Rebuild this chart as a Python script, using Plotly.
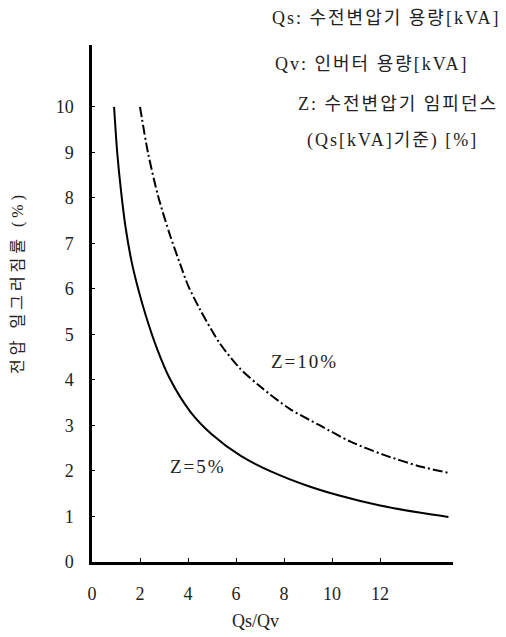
import plotly.graph_objects as go

# Data
z5_x = [0.92, 1.05, 1.2, 1.4, 1.65, 1.9, 2.25, 2.7, 3.25, 4.1, 5.0, 6.2, 7.5, 9.0, 10.3, 12.0, 13.7, 14.85]
z5_y = [10.0, 9.0, 8.2, 7.35, 6.6, 6.05, 5.4, 4.7, 4.02, 3.3, 2.8, 2.33, 1.98, 1.67, 1.46, 1.24, 1.08, 0.99]

z10_x = [2.0, 2.33, 2.75, 3.25, 3.67, 4.0, 4.5, 5.33, 6.17, 7.0, 8.25, 9.5, 10.75, 12.13, 13.67, 14.85]
z10_y = [10.0, 9.0, 8.05, 7.18, 6.55, 6.08, 5.55, 4.8, 4.25, 3.86, 3.36, 3.0, 2.65, 2.36, 2.1, 1.96]

x_ticks = [0, 2, 4, 6, 8, 10, 12]
y_ticks = [0, 1, 2, 3, 4, 5, 6, 7, 8, 9, 10]

series_labels = ["Z=5%", "Z=10%"]
x_title = "Qs/Qv"
y_title = "전압 일그러짐률 (%)"
header_lines = ["Qs: 수전변압기 용량[kVA]", "Qv: 인버터 용량[kVA]", "Z: 수전변압기 임피던스", "(Qs[kVA]기준) [%]"]

SERIF = "Liberation Serif, DejaVu Serif, Noto Sans CJK KR, serif"

fig = go.Figure()
fig.add_trace(go.Scatter(x=z5_x, y=z5_y, mode="lines",
                         line=dict(color="black", width=2, shape="spline", smoothing=0.8), showlegend=False))
fig.add_trace(go.Scatter(x=z10_x, y=z10_y, mode="lines",
                         line=dict(color="black", width=2, shape="spline", smoothing=0.8, dash="10px,3px,2px,3px"),
                         showlegend=False))

W, H = 506, 637
L, R, T, B = 92, 53, 45, 75
pw, ph = W - L - R, H - T - B

def px(x):
    return (x - L) / pw

def py(y):
    return (H - B - y) / ph

fig.update_layout(
    width=W, height=H,
    margin=dict(l=L, r=R, t=T, b=B, pad=0),
    plot_bgcolor="white", paper_bgcolor="white",
    font=dict(family=SERIF, size=17, color="#222"),
    xaxis=dict(range=[0, 15.04], tickvals=x_ticks, ticktext=[str(v) for v in x_ticks],
               showgrid=False, zeroline=False, showline=True, linecolor="black", linewidth=2.5,
               ticks="inside", ticklen=4, tickcolor="black", ticklabelstandoff=14,
               tickfont=dict(family=SERIF, size=18, color="#222")),
    yaxis=dict(range=[0, 11.36], tickvals=y_ticks, ticktext=[str(v) for v in y_ticks],
               showgrid=False, zeroline=False, showline=True, linecolor="black", linewidth=2.5,
               ticks="inside", ticklen=3, tickcolor="black", ticklabelstandoff=12,
               tickfont=dict(family=SERIF, size=18, color="#222")),
)

def spaced(t, ls):
    return '<span style="letter-spacing:%dpx">%s</span>' % (ls, t)

ann = []
# Series labels
ann.append(dict(x=8.85, y=4.4, xref="x", yref="y", text=spaced(series_labels[1], 2), showarrow=False,
                font=dict(family=SERIF, size=19, color="#222"), xanchor="center", yanchor="middle"))
ann.append(dict(x=4.4, y=2.1, xref="x", yref="y", text=spaced(series_labels[0], 2), showarrow=False,
                font=dict(family=SERIF, size=19, color="#222"), xanchor="center", yanchor="middle"))
# Axis titles
ann.append(dict(x=px(255), y=py(621), xref="paper", yref="paper", text=x_title, showarrow=False,
                font=dict(family=SERIF, size=18, color="#222"), xanchor="center", yanchor="middle"))
ann.append(dict(x=px(18), y=py(283), xref="paper", yref="paper", text=spaced(y_title, 4), showarrow=False,
                textangle=-90, font=dict(family=SERIF, size=16, color="#222"), xanchor="center", yanchor="middle"))
# Header notes
header_pos = [(503, 18), (470, 64), (500, 104), (480, 140)]
for txt, (hx, hy) in zip(header_lines, header_pos):
    ann.append(dict(x=px(hx), y=py(hy), xref="paper", yref="paper", text=spaced(txt, 2), showarrow=False,
                    font=dict(family=SERIF, size=18, color="#222"), xanchor="right", yanchor="middle"))
fig.update_layout(annotations=ann)

fig.write_html("out.html", config={"displayModeBar": False},
               post_script="document.body.style.margin='0';document.body.style.overflow='hidden';")
